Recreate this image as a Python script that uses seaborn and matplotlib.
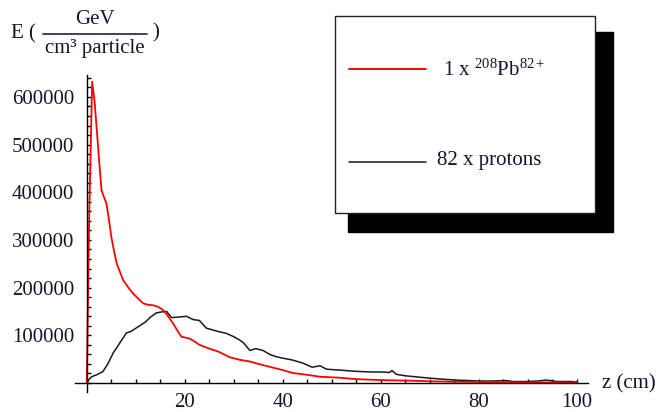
import matplotlib
matplotlib.use("Agg")
import matplotlib.pyplot as plt
import seaborn as sns
import pandas as pd
from matplotlib.patches import Rectangle
from matplotlib.lines import Line2D
from matplotlib.ticker import MultipleLocator, FuncFormatter

# ---- data ----
z_pb = [0, 0.5, 1.1, 1.6, 2.0, 2.5, 3.0, 3.5, 4.0, 4.5, 5.0, 5.5, 6.1, 7.4, 8.5, 9.4,
        10.5, 11.5, 12.5, 13.5, 14.5, 15.6, 16.6, 17.6, 18.5, 19.3, 20.2, 21, 22, 23,
        24, 25, 26.8, 29.2, 31, 33.3, 35, 37.3, 40, 42, 45, 47.6, 51.6, 55, 60, 65,
        70, 75, 80, 85, 90, 95, 100]
e_pb = [0, 350000, 632000, 590000, 537000, 470000, 405000, 390000, 377000, 345000,
        307000, 280000, 251000, 216000, 200000, 188000, 177000, 167000, 164000,
        163000, 160000, 153000, 140000, 125000, 110000, 97000, 95000, 93000, 87000,
        80000, 76000, 72000, 66000, 54000, 49000, 45000, 40000, 34000, 27000, 21000,
        17000, 13000, 11000, 8000, 6000, 5000, 3500, 2500, 2000, 1500, 1200, 1000, 800]

z_p = [0, 0.5, 1.0, 2.0, 3.3, 4.3, 5.4, 6.0, 7.0, 8.1, 9.0, 10.8, 12.0, 13.0, 14.2,
       15.3, 16.3, 17.3, 18.5, 19.6, 20.3, 21.7, 23, 24.4, 25.1, 26.8, 28.5, 30, 31.2,
       32, 33.3, 34.5, 36, 37.3, 38.7, 40, 42, 44, 46, 47.6, 48.9, 50, 51.6, 54, 55.7,
       58, 60, 61.8, 62.3, 63.2, 65, 67, 70, 72.5, 75.4, 78, 80, 82.5, 85.7, 87, 90,
       92, 93.8, 96, 99, 100]
e_p = [0, 8000, 13000, 17000, 24000, 40000, 63000, 72000, 88000, 105000, 108000,
       120000, 128000, 138000, 147000, 149000, 150000, 137000, 138000, 139000, 140000,
       133000, 131000, 115000, 113000, 108000, 104000, 97000, 90000, 84000, 68000,
       72000, 68000, 60000, 55000, 52000, 48000, 42000, 33000, 36000, 29000, 28000,
       27000, 25000, 24000, 23000, 23000, 22000, 26000, 18000, 15000, 13000, 10000,
       8000, 6000, 5000, 4000, 4000, 5000, 3000, 3000, 4000, 6000, 3000, 3000, 2000]

label_pb = r"1 x $^{208}$Pb$^{82+}$"
label_p = "82 x protons"
y_ticks = [100000, 200000, 300000, 400000, 500000, 600000]
x_ticks = [20, 40, 60, 80, 100]

# ---- style ----
sns.set_style("white")
plt.rcParams["font.family"] = ["Liberation Serif", "DejaVu Serif"]
plt.rcParams["mathtext.fontset"] = "custom"
plt.rcParams["mathtext.rm"] = "Liberation Serif"
plt.rcParams["mathtext.it"] = "Liberation Serif:italic"

TXT = "#14142e"
W, H = 664, 412
fig = plt.figure(figsize=(W / 100, H / 100), dpi=100)
fig.patch.set_facecolor("white")

def fx(px):
    return px / W

def fy(py):
    return 1 - py / H

ax_l, ax_r, ax_t, ax_b = 75, 588, 75, 392
ax = fig.add_axes([fx(ax_l), fy(ax_b), (ax_r - ax_l) / W, (ax_b - ax_t) / H])
ax.set_facecolor("none")

df_pb = pd.DataFrame({"z": z_pb, "E": e_pb})
df_p = pd.DataFrame({"z": z_p, "E": e_p})
sns.lineplot(data=df_p, x="z", y="E", ax=ax, color="#1a1a1a", lw=1.1, estimator=None)
sns.lineplot(data=df_pb, x="z", y="E", ax=ax, color="#ff0000", lw=1.3, estimator=None)

ax.set_xlim(-2.4, 102.3)
ax.set_ylim(-19000, 646000)
ax.spines["left"].set_position(("data", 0))
ax.spines["bottom"].set_position(("data", 0))
ax.spines["right"].set_visible(False)
ax.spines["top"].set_visible(False)
for s in ("left", "bottom"):
    ax.spines[s].set_color("black")
    ax.spines[s].set_linewidth(1.0)

ax.set_xticks(x_ticks)
ax.set_yticks(y_ticks)
ax.xaxis.set_minor_locator(MultipleLocator(5))
ax.yaxis.set_minor_locator(MultipleLocator(20000))
ax.yaxis.set_major_formatter(FuncFormatter(lambda v, p: f"{int(v)}"))
ax.tick_params(axis="both", which="both", direction="in", length=3, width=1,
               colors="black", labelsize=15, labelcolor=TXT,
               bottom=True, left=True, top=False, right=False)
ax.tick_params(axis="x", which="major", pad=7)
ax.tick_params(axis="y", which="major", pad=9)
ax.set_xlabel("")
ax.set_ylabel("")

# axis labels
fig.text(fx(602), fy(384), "z (cm)", fontsize=15, ha="left", va="center", color=TXT)
fig.text(fx(11), fy(34), "E (", fontsize=15, ha="left", va="center", color=TXT)
fig.text(fx(95), fy(20), "GeV", fontsize=15, ha="center", va="center", color=TXT)
fig.add_artist(Line2D([fx(43), fx(147)], [fy(34), fy(34)], color="#222233", lw=1.2))
fig.text(fx(95), fy(48), "cm³ particle", fontsize=15, ha="center", va="center", color=TXT)
fig.text(fx(152), fy(33), ")", fontsize=15, ha="left", va="center", color=TXT)

# legend box with hard shadow
bx0, bx1, by0, by1 = 335, 595, 16, 213
fig.add_artist(Rectangle((fx(bx0 + 13), fy(by1 + 19)), (bx1 - bx0 + 5) / W,
                         (by1 - by0 + 3) / H, facecolor="black", edgecolor="black",
                         zorder=5))
fig.add_artist(Rectangle((fx(bx0), fy(by1)), (bx1 - bx0) / W, (by1 - by0) / H,
                         facecolor="white", edgecolor="#222222", lw=1.0, zorder=6))
fig.add_artist(Line2D([fx(349), fx(426)], [fy(69), fy(69)], color="#ff0000", lw=1.4, zorder=7))
fig.add_artist(Line2D([fx(349), fx(426)], [fy(162), fy(162)], color="#1a1a1a", lw=1.1, zorder=7))
fig.text(fx(443), fy(70), label_pb, fontsize=15, ha="left", va="center",
         color=TXT, zorder=8)
fig.text(fx(437), fy(160), label_p, fontsize=15, ha="left", va="center",
         color=TXT, zorder=8)

fig.savefig("out.png", dpi=100)
